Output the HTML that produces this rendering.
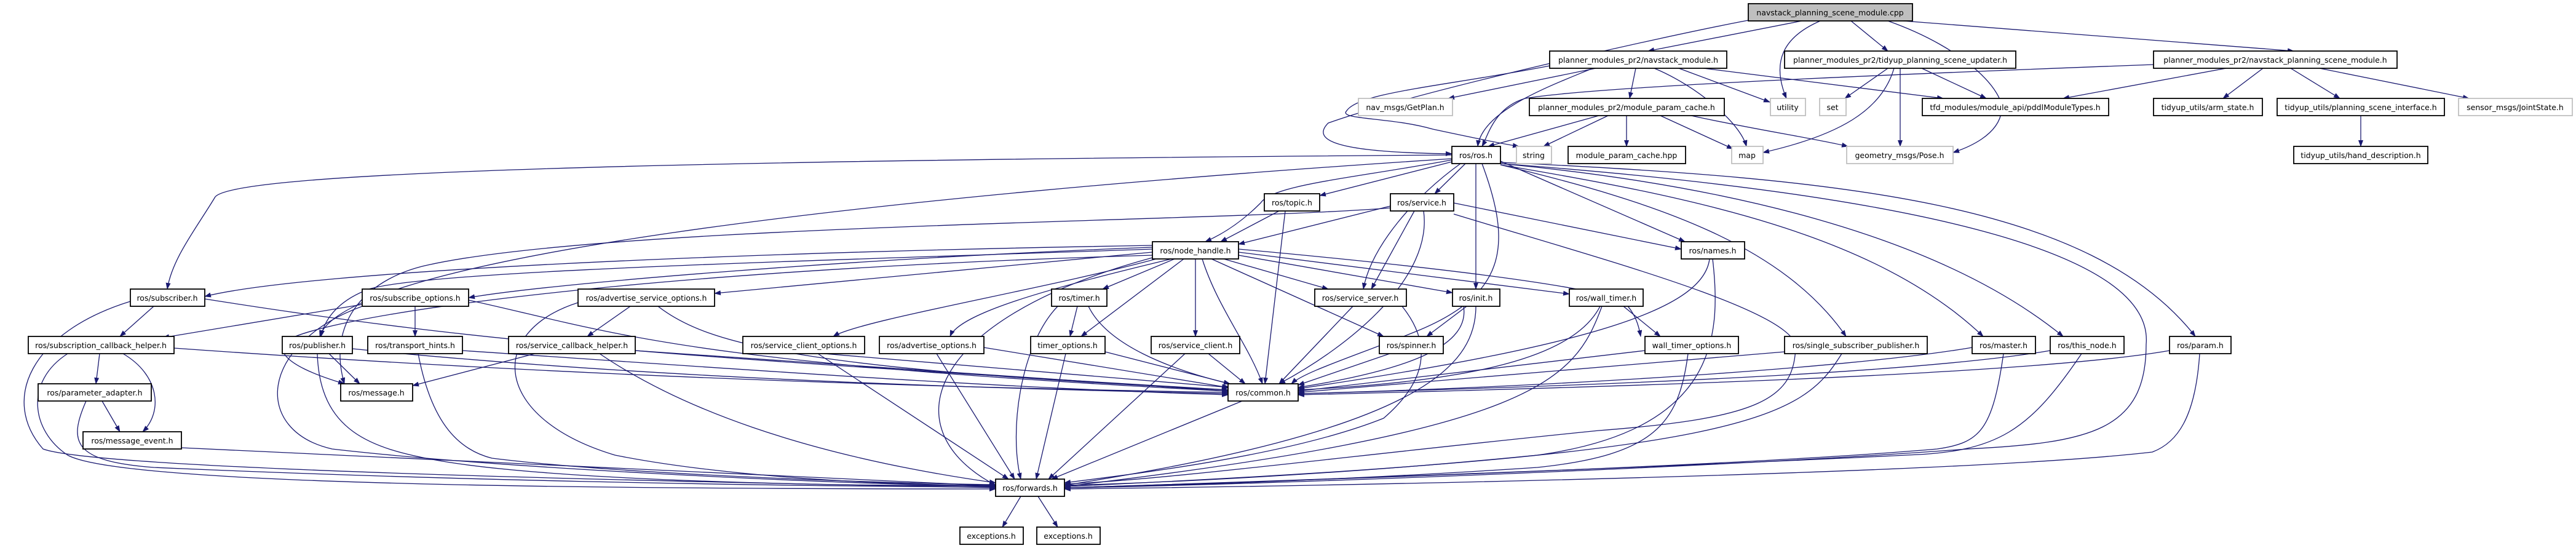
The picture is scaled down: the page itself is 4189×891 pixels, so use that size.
<!DOCTYPE html>
<html><head><meta charset="utf-8"><style>
html,body{margin:0;padding:0;background:#fff;}
svg{display:block;}
text{font-family:"DejaVu Sans","Liberation Sans",sans-serif;font-size:12.5px;fill:#000;text-anchor:middle;}
.e{fill:none;stroke:#191970;stroke-width:1.3;marker-end:url(#a);}
.n{fill:#fff;stroke:#000;stroke-width:1.8;}
.g{fill:#fff;stroke:#c0c0c0;stroke-width:1.8;}
</style></head><body>
<svg width="4189" height="891" viewBox="0 0 4189 891" xmlns="http://www.w3.org/2000/svg">
<defs><marker id="a" markerWidth="11" markerHeight="8" refX="10" refY="4" orient="auto" markerUnits="userSpaceOnUse"><path d="M0,0 L11,4 L0,8z" fill="#191970"/></marker></defs>
<g>
<path class="e" d="M2930 34 L2680 83"/>
<path class="e" d="M3010 34 L3070 83"/>
<path class="e" d="M3095 34 L3730 83"/>
<path class="e" d="M2960 34 C2900 60 2880 100 2905 160"/>
<path class="e" d="M3070 34 C3200 80 3260 150 3255 180 C3250 220 3200 240 3176 248"/>
<path class="e" d="M2843 33 C2700 60 2300 150 2160 200 C2130 230 2180 248 2361 250"/>
<path class="e" d="M2595 111 L2355 160"/>
<path class="e" d="M2590 111 C2520 140 2410 180 2403 238"/>
<path class="e" d="M2520 107 C2350 140 2210 150 2190 180 C2175 195 2260 190 2330 210 C2400 225 2450 235 2470 238"/>
<path class="e" d="M2660 111 L2650 160"/>
<path class="e" d="M2690 111 C2760 140 2830 200 2840 238"/>
<path class="e" d="M2730 111 L2878 166"/>
<path class="e" d="M2770 111 L3160 160"/>
<path class="e" d="M3070 111 L3000 160"/>
<path class="e" d="M3080 111 C3060 180 2990 220 2867 248"/>
<path class="e" d="M3090 111 L3090 238"/>
<path class="e" d="M3125 111 L3230 160"/>
<path class="e" d="M3620 111 L3355 160"/>
<path class="e" d="M3680 111 L3615 160"/>
<path class="e" d="M3725 111 L3805 160"/>
<path class="e" d="M3772 111 L4015 160"/>
<path class="e" d="M3502 105 C3100 120 2600 140 2480 160 C2430 175 2420 220 2410 238"/>
<path class="e" d="M3839 188 L3839 238"/>
<path class="e" d="M2600 188 L2420 238"/>
<path class="e" d="M2615 188 L2510 238"/>
<path class="e" d="M2645 188 L2645 238"/>
<path class="e" d="M2700 188 L2818 242"/>
<path class="e" d="M2750 188 C2850 210 2950 225 3005 238"/>
<path class="e" d="M2365 262 L2146 318"/>
<path class="e" d="M2383 266 L2333 315"/>
<path class="e" d="M2361 260 C2200 290 2070 300 2050 330 C2020 360 1990 380 1960 393"/>
<path class="e" d="M2440 262 L2740 393"/>
<path class="e" d="M2400 266 L2400 470"/>
<path class="e" d="M2410 266 C2460 400 2450 480 2300 540 C2200 580 2120 605 2100 624"/>
<path class="e" d="M2375 266 C2300 320 2230 400 2217 470"/>
<path class="e" d="M2361 252 C900 262 380 285 350 320 C320 370 280 420 272 470"/>
<path class="e" d="M2361 258 C1400 320 560 420 520 547"/>
<path class="e" d="M2440 268 C2700 330 2900 400 3002 547"/>
<path class="e" d="M2440 268 C2750 320 3050 380 3225 547"/>
<path class="e" d="M2440 266 C2800 300 3150 380 3355 547"/>
<path class="e" d="M2440 264 C3000 290 3400 330 3570 547"/>
<path class="e" d="M2440 266 C3300 330 3500 450 3490 560 C3490 700 3400 720 3200 730 C2800 760 2000 790 1731 793"/>
<path class="e" d="M2261 335 L2014 397"/>
<path class="e" d="M2364 330 L2734 405"/>
<path class="e" d="M2300 343 L2230 470"/>
<path class="e" d="M2315 343 C2330 450 2200 560 2080 624"/>
<path class="e" d="M2364 348 C2600 420 2900 500 2920 560 C2920 650 2860 680 2600 700 C2200 740 1900 780 1731 787"/>
<path class="e" d="M2261 338 C2000 360 1000 365 700 430 C600 450 530 520 560 624"/>
<path class="e" d="M2080 343 L1985 393"/>
<path class="e" d="M2090 343 L2057 624"/>
<path class="e" d="M1874 399 C1200 410 500 440 333 482"/>
<path class="e" d="M1874 402 C1400 420 900 460 762 484"/>
<path class="e" d="M1874 410 L1162 477"/>
<path class="e" d="M1874 405 C1300 425 700 440 600 470 C560 485 530 510 522 547"/>
<path class="e" d="M1874 415 C1000 440 480 520 460 560 C450 590 530 615 560 624"/>
<path class="e" d="M1880 421 C1700 470 1400 520 1355 547"/>
<path class="e" d="M1905 421 C1700 470 1560 510 1545 547"/>
<path class="e" d="M1910 421 L1793 470"/>
<path class="e" d="M1925 421 L1758 547"/>
<path class="e" d="M1944 421 L1944 547"/>
<path class="e" d="M1955 421 C1980 500 2030 560 2053 624"/>
<path class="e" d="M1990 421 L2160 470"/>
<path class="e" d="M1970 421 L2250 547"/>
<path class="e" d="M2014 415 L2362 476"/>
<path class="e" d="M2014 410 L2552 478"/>
<path class="e" d="M2014 405 C2400 440 2600 470 2640 490 C2660 510 2665 530 2668 547"/>
<path class="e" d="M1874 419 C1500 520 1450 700 1619 789"/>
<path class="e" d="M250 498 L195 547"/>
<path class="e" d="M333 486 C800 560 1100 580 1997 634"/>
<path class="e" d="M212 490 C50 540 0 650 70 730 C150 760 900 780 1619 793"/>
<path class="e" d="M589 495 L265 549"/>
<path class="e" d="M675 498 L675 547"/>
<path class="e" d="M762 488 C1000 540 1100 590 1997 636"/>
<path class="e" d="M589 498 C420 560 410 700 540 730 C800 760 1300 785 1619 791"/>
<path class="e" d="M1025 498 L955 547"/>
<path class="e" d="M1070 498 C1150 560 1300 600 1997 634"/>
<path class="e" d="M940 492 C790 540 800 680 1000 740 C1200 780 1500 790 1619 789"/>
<path class="e" d="M162 575 L156 624"/>
<path class="e" d="M200 575 C260 610 265 670 232 702"/>
<path class="e" d="M283 566 C900 610 1500 630 1997 638"/>
<path class="e" d="M110 575 C40 620 50 700 110 740 C200 790 1000 795 1619 795"/>
<path class="e" d="M535 575 L585 624"/>
<path class="e" d="M573 567 C1000 610 1500 630 1997 640"/>
<path class="e" d="M516 575 C520 700 600 730 720 750 C900 780 1300 790 1619 790"/>
<path class="e" d="M752 570 C1200 600 1600 630 1997 642"/>
<path class="e" d="M680 575 C700 680 740 730 800 745 C1000 770 1400 785 1619 788"/>
<path class="e" d="M870 575 L671 627"/>
<path class="e" d="M1033 570 L1997 636"/>
<path class="e" d="M975 575 C1100 660 1300 740 1619 785"/>
<path class="e" d="M166 652 L195 702"/>
<path class="e" d="M140 652 C110 720 120 750 250 760 C700 780 1200 790 1619 792"/>
<path class="e" d="M295 728 L1619 790"/>
<path class="e" d="M1340 575 L2000 630"/>
<path class="e" d="M1330 575 L1640 779"/>
<path class="e" d="M1600 565 L1997 630"/>
<path class="e" d="M1523 575 L1650 779"/>
<path class="e" d="M1752 498 L1740 547"/>
<path class="e" d="M1770 498 C1800 560 1900 600 2000 624"/>
<path class="e" d="M1720 498 C1660 560 1640 700 1660 779"/>
<path class="e" d="M1797 572 L2000 624"/>
<path class="e" d="M1733 575 L1685 779"/>
<path class="e" d="M1965 575 L2025 624"/>
<path class="e" d="M1927 575 L1705 779"/>
<path class="e" d="M2200 498 L2080 624"/>
<path class="e" d="M2280 498 C2330 560 2320 620 2250 680 C2100 740 1850 770 1731 785"/>
<path class="e" d="M2385 498 L2320 547"/>
<path class="e" d="M2380 498 C2390 560 2300 600 2111 630"/>
<path class="e" d="M2400 498 C2400 600 2300 700 1731 789"/>
<path class="e" d="M2260 575 L2111 626"/>
<path class="e" d="M2640 498 L2700 547"/>
<path class="e" d="M2602 498 C2560 580 2400 620 2111 634"/>
<path class="e" d="M2605 498 C2560 620 2500 700 1731 791"/>
<path class="e" d="M2675 570 L2111 636"/>
<path class="e" d="M2745 575 C2730 690 2690 740 2500 760 C2200 780 1900 790 1731 793"/>
<path class="e" d="M2780 421 C2770 500 2600 560 2111 632"/>
<path class="e" d="M2785 421 C2800 550 2790 700 2500 740 C2200 770 1900 785 1731 789"/>
<path class="e" d="M2902 572 L2111 638"/>
<path class="e" d="M2995 575 C2930 680 2850 740 1731 791"/>
<path class="e" d="M3207 565 C3000 600 2500 630 2111 640"/>
<path class="e" d="M3258 575 C3240 700 3220 720 3150 730 C2800 760 2000 785 1731 793"/>
<path class="e" d="M3334 570 C3100 610 2500 630 2111 640"/>
<path class="e" d="M3385 575 C3300 700 3250 735 3100 740 C2700 760 2000 785 1731 793"/>
<path class="e" d="M3528 570 C3300 610 2600 630 2111 642"/>
<path class="e" d="M3577 575 C3570 680 3540 720 3500 735 C3200 770 2200 790 1731 795"/>
<path class="e" d="M2020 652 L1710 779"/>
<path class="e" d="M1660 807 L1630 857"/>
<path class="e" d="M1688 807 L1720 857"/>
</g>
<g>
<rect x="2843" y="6" width="267" height="28" fill="#bfbfbf" stroke="#000" stroke-width="1.8"/><text x="2976" y="25">navstack_planning_scene_module.cpp</text>
<rect class="n" x="2520" y="83" width="288" height="28"/><text x="2664" y="102">planner_modules_pr2/navstack_module.h</text>
<rect class="n" x="2902" y="83" width="376" height="28"/><text x="3090" y="102">planner_modules_pr2/tidyup_planning_scene_updater.h</text>
<rect class="n" x="3502" y="83" width="396" height="28"/><text x="3700" y="102">planner_modules_pr2/navstack_planning_scene_module.h</text>
<rect class="g" x="2209" y="160" width="153" height="28"/><text x="2285" y="179">nav_msgs/GetPlan.h</text>
<rect class="n" x="2487" y="160" width="317" height="28"/><text x="2645" y="179">planner_modules_pr2/module_param_cache.h</text>
<rect class="g" x="2879" y="160" width="57" height="28"/><text x="2907" y="179">utility</text>
<rect class="g" x="2959" y="160" width="43" height="28"/><text x="2980" y="179">set</text>
<rect class="n" x="3126" y="160" width="303" height="28"/><text x="3277" y="179">tfd_modules/module_api/pddlModuleTypes.h</text>
<rect class="n" x="3502" y="160" width="177" height="28"/><text x="3590" y="179">tidyup_utils/arm_state.h</text>
<rect class="n" x="3703" y="160" width="272" height="28"/><text x="3839" y="179">tidyup_utils/planning_scene_interface.h</text>
<rect class="g" x="3998" y="160" width="185" height="28"/><text x="4090" y="179">sensor_msgs/JointState.h</text>
<rect class="n" x="2361" y="238" width="79" height="28"/><text x="2400" y="257">ros/ros.h</text>
<rect class="g" x="2466" y="238" width="57" height="28"/><text x="2494" y="257">string</text>
<rect class="n" x="2550" y="238" width="191" height="28"/><text x="2645" y="257">module_param_cache.hpp</text>
<rect class="g" x="2816" y="238" width="51" height="28"/><text x="2841" y="257">map</text>
<rect class="g" x="3003" y="238" width="173" height="28"/><text x="3089" y="257">geometry_msgs/Pose.h</text>
<rect class="n" x="3730" y="238" width="218" height="28"/><text x="3839" y="257">tidyup_utils/hand_description.h</text>
<rect class="n" x="2056" y="315" width="90" height="28"/><text x="2101" y="334">ros/topic.h</text>
<rect class="n" x="2261" y="315" width="103" height="28"/><text x="2312" y="334">ros/service.h</text>
<rect class="n" x="1874" y="393" width="140" height="28"/><text x="1944" y="412">ros/node_handle.h</text>
<rect class="n" x="2734" y="393" width="103" height="28"/><text x="2785" y="412">ros/names.h</text>
<rect class="n" x="212" y="470" width="121" height="28"/><text x="272" y="489">ros/subscriber.h</text>
<rect class="n" x="589" y="470" width="173" height="28"/><text x="675" y="489">ros/subscribe_options.h</text>
<rect class="n" x="940" y="470" width="222" height="28"/><text x="1051" y="489">ros/advertise_service_options.h</text>
<rect class="n" x="1710" y="470" width="90" height="28"/><text x="1755" y="489">ros/timer.h</text>
<rect class="n" x="2138" y="470" width="149" height="28"/><text x="2212" y="489">ros/service_server.h</text>
<rect class="n" x="2362" y="470" width="77" height="28"/><text x="2400" y="489">ros/init.h</text>
<rect class="n" x="2552" y="470" width="120" height="28"/><text x="2612" y="489">ros/wall_timer.h</text>
<rect class="n" x="46" y="547" width="237" height="28"/><text x="164" y="566">ros/subscription_callback_helper.h</text>
<rect class="n" x="459" y="547" width="114" height="28"/><text x="516" y="566">ros/publisher.h</text>
<rect class="n" x="598" y="547" width="154" height="28"/><text x="675" y="566">ros/transport_hints.h</text>
<rect class="n" x="827" y="547" width="206" height="28"/><text x="930" y="566">ros/service_callback_helper.h</text>
<rect class="n" x="1208" y="547" width="198" height="28"/><text x="1307" y="566">ros/service_client_options.h</text>
<rect class="n" x="1430" y="547" width="170" height="28"/><text x="1515" y="566">ros/advertise_options.h</text>
<rect class="n" x="1676" y="547" width="121" height="28"/><text x="1736" y="566">timer_options.h</text>
<rect class="n" x="1872" y="547" width="144" height="28"/><text x="1944" y="566">ros/service_client.h</text>
<rect class="n" x="2243" y="547" width="104" height="28"/><text x="2295" y="566">ros/spinner.h</text>
<rect class="n" x="2675" y="547" width="152" height="28"/><text x="2751" y="566">wall_timer_options.h</text>
<rect class="n" x="2902" y="547" width="232" height="28"/><text x="3018" y="566">ros/single_subscriber_publisher.h</text>
<rect class="n" x="3207" y="547" width="103" height="28"/><text x="3258" y="566">ros/master.h</text>
<rect class="n" x="3334" y="547" width="120" height="28"/><text x="3394" y="566">ros/this_node.h</text>
<rect class="n" x="3528" y="547" width="100" height="28"/><text x="3578" y="566">ros/param.h</text>
<rect class="n" x="62" y="624" width="184" height="28"/><text x="154" y="643">ros/parameter_adapter.h</text>
<rect class="n" x="554" y="624" width="117" height="28"/><text x="612" y="643">ros/message.h</text>
<rect class="n" x="1997" y="624" width="114" height="28"/><text x="2054" y="643">ros/common.h</text>
<rect class="n" x="135" y="702" width="160" height="28"/><text x="215" y="721">ros/message_event.h</text>
<rect class="n" x="1619" y="779" width="112" height="28"/><text x="1675" y="798">ros/forwards.h</text>
<rect class="n" x="1561" y="857" width="103" height="28"/><text x="1612" y="876">exceptions.h</text>
<rect class="n" x="1686" y="857" width="103" height="28"/><text x="1737" y="876">exceptions.h</text>
</g>
</svg>
</body></html>
